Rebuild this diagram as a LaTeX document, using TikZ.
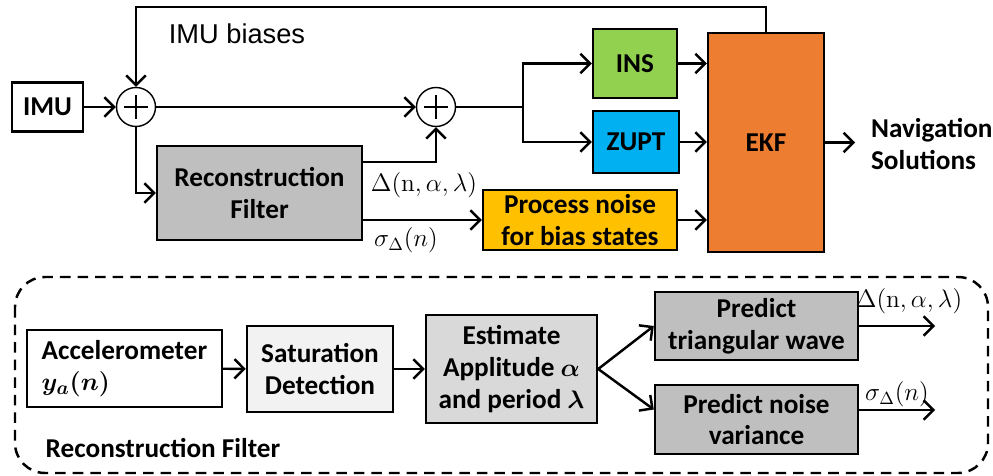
\documentclass[tikz,border=0pt]{standalone}
\usepackage{amsmath}
\usepackage{bm}
\usepackage[no-math]{fontspec}
\setmainfont{Carlito}
\newfontfamily\arialfont{Liberation Sans}
\usetikzlibrary{arrows.meta, positioning}

\definecolor{rfgray}{RGB}{191,191,191}
\definecolor{estgray}{RGB}{217,217,217}
\definecolor{satgray}{RGB}{242,242,242}
\definecolor{insgreen}{RGB}{146,208,80}
\definecolor{zuptblue}{RGB}{0,176,240}
\definecolor{pnyellow}{RGB}{255,192,0}
\definecolor{ekforange}{RGB}{237,125,49}

\begin{document}
\begin{tikzpicture}[x=0.02cm, y=-0.02cm, line width=1.4pt,
  >={Straight Barb[length=5.5pt,width=11pt]},
  block/.style={draw, line width=1.4pt, font=\fontsize{15.5}{18}\selectfont\bfseries, align=center, inner sep=1pt},
  sumnode/.style={draw, circle, minimum size=0.78cm, inner sep=0pt, line width=0.8pt,
    path picture={\draw[line width=1.4pt] ([xshift=-0.24cm]path picture bounding box.center) -- ([xshift=0.24cm]path picture bounding box.center);
      \draw[line width=1.4pt] ([yshift=-0.24cm]path picture bounding box.center) -- ([yshift=0.24cm]path picture bounding box.center);}},
  sig/.style={font=\fontsize{14}{16}\selectfont},
  txt/.style={font=\fontsize{15.5}{18}\selectfont\bfseries, align=left}]
\useasboundingbox (0,0) rectangle (993,476);

% upper chain
\node[block, minimum width=1.42cm, minimum height=0.98cm] (imu) at (47.5,107) {IMU};
\node[sumnode] (s1) at (136,107) {};
\node[sumnode] (s2) at (436,107) {};
\node[block, fill=rfgray, minimum width=4.1cm, minimum height=1.88cm] (rf) at (259.5,193) {Reconstruction\\Filter};
\node[block, fill=insgreen, minimum width=1.68cm, minimum height=1.38cm] (ins) at (635,63.5) {INS};
\node[block, fill=zuptblue, minimum width=1.72cm, minimum height=1.24cm] (zupt) at (636,142) {ZUPT};
\node[block, fill=pnyellow, minimum width=3.88cm, minimum height=1.2cm] (pn) at (580,220) {Process noise\\for bias states};
\node[block, fill=ekforange, minimum width=2.32cm, minimum height=4.38cm] (ekf) at (766,142.5) {EKF};
\node[txt, anchor=west] (nav) at (864,144) {Navigation\\Solutions};
\node[font=\fontsize{15.5}{18}\selectfont\arialfont] (bias) at (237,34) {IMU biases};
\node[sig] (dl) at (424,185) {$\Delta(\mathrm{n},\alpha,\lambda)$};
\node[sig] (sl) at (406,240) {$\sigma_\Delta(n)$};
\coordinate (fb) at (766,7);
\coordinate (split) at (523,107);
\coordinate (navout) at (855,142.5);

\draw[->] (imu) -- (s1);
\draw[->] (ekf.north) -- (ekf.north |- fb) -| (s1.north);
\draw[->] (s1) -- (s2);
\draw[->] (s1.south) |- (rf.west);
\draw[->] ([yshift=0.62cm]rf.east) -| (s2.south);
\draw[->] (rf.east |- pn.west) -- (pn.west);
\draw (s2) -- (split);
\draw[->] (split) |- (ins);
\draw[->] (split) |- (zupt);
\draw[->] (ins) -- (ins -| ekf.west);
\draw[->] (zupt) -- (zupt -| ekf.west);
\draw[->] (pn) -- (pn -| ekf.west);
\draw[->] (ekf) -- (navout);

% reconstruction filter detail
\draw[dashed, dash pattern=on 6pt off 4pt, rounded corners=0.6cm] (15,277) rectangle (988,473);
\node[block, minimum width=3.9cm, minimum height=1.54cm, align=left] (acc) at (124.5,368.5) {Accelerometer\\$\bm{y_a(n)}$};
\node[block, fill=satgray, minimum width=2.92cm, minimum height=1.72cm] (sat) at (320,369) {Saturation\\Detection};
\node[block, fill=estgray, minimum width=3.42cm, minimum height=2.16cm] (est) at (511.5,369) {Estimate\\Applitude $\bm{\alpha}$\\and period $\bm{\lambda}$};
\node[block, fill=rfgray, minimum width=4.06cm, minimum height=1.36cm] (pt) at (756.5,326) {Predict\\triangular wave};
\node[block, fill=rfgray, minimum width=4.06cm, minimum height=1.38cm] (pnv) at (756.5,419.5) {Predict noise\\variance};
\node[txt] (rflbl) at (163,448) {Reconstruction Filter};
\node[sig] (dout) at (909,301) {$\Delta(\mathrm{n},\alpha,\lambda)$};
\node[sig] (sout) at (897,394) {$\sigma_\Delta(n)$};
\coordinate (ptout) at (935,326);
\coordinate (pnvout) at (935,410);

\draw[->] (acc) -- (sat);
\draw[->] (sat) -- (est);
\draw[->] (est.east) -- (pt.west);
\draw[->] (est.east) -- ([yshift=0.2cm]pnv.west);
\draw[->] (pt) -- (ptout);
\draw[->] (pnv.east |- pnvout) -- (pnvout);
\end{tikzpicture}
\end{document}
